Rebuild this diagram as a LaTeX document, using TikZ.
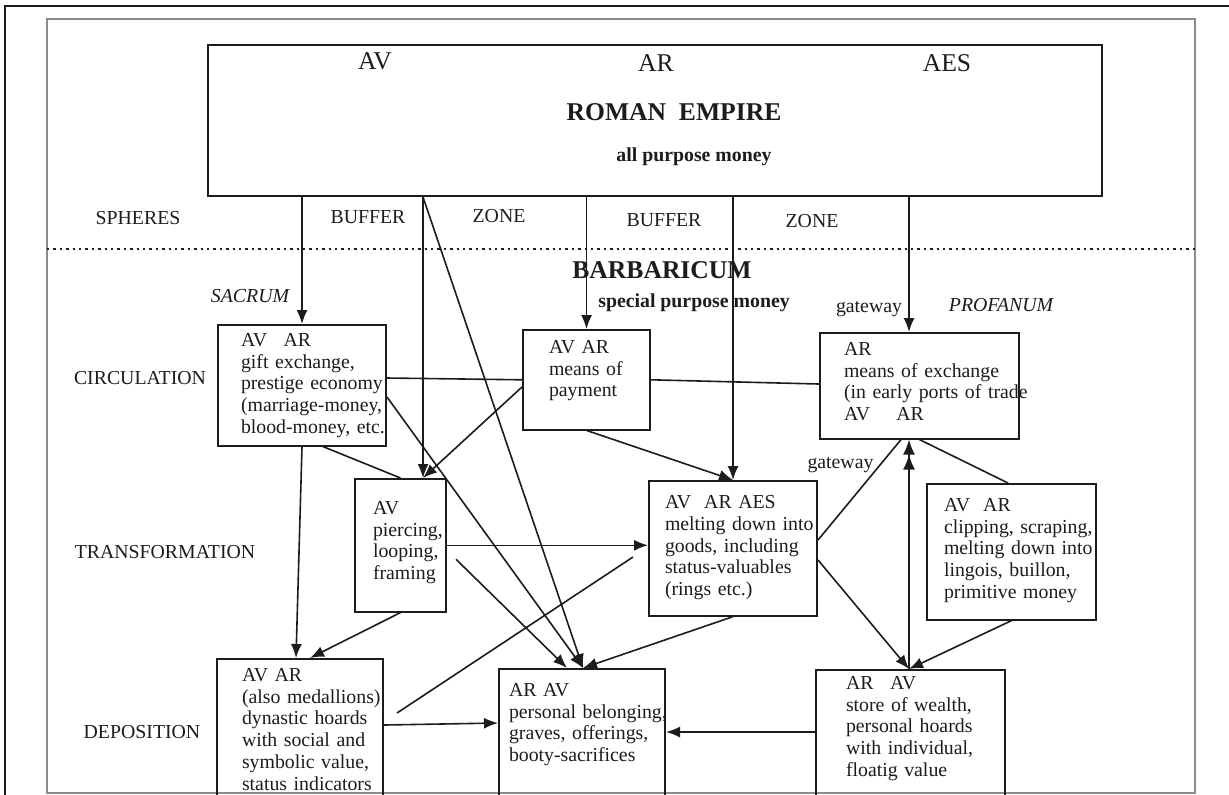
\documentclass[tikz,border=0pt]{standalone}
\usepackage{fontspec}
\setmainfont{Liberation Serif}
\usepackage{tikz}
\usetikzlibrary{arrows.meta,calc}
\usepackage{xcolor}
\definecolor{inkgray}{HTML}{1C1C1C}
\definecolor{framegray}{HTML}{8C8C8C}
\newcommand{\boxfont}{\fontsize{9.9pt}{10.85pt}\selectfont}
\newcommand{\headfont}{\fontsize{12.8pt}{14pt}\selectfont}

\begin{document}
\begin{tikzpicture}[
    x=0.5pt, y=-0.5pt,
    box/.style={draw=inkgray, line width=1pt, anchor=north west, align=left, inner xsep=0pt, font=\boxfont, text=inkgray},
    lpad/.style={execute at begin node={\leftskip=#1\relax\rightskip=-30pt plus 1fil\relax}},
    lbl/.style={font=\boxfont, text=inkgray, inner sep=0pt},
    head/.style={font=\headfont, text=inkgray, inner sep=0pt},
    con/.style={draw=inkgray, line width=0.8pt},
    arr/.style={con, -{Latex[length=7pt, width=5.5pt]}},
    darr/.style={con, -{Latex[length=7.5pt, width=6pt]Latex[length=7.5pt, width=6pt]}},
    sep/.style={draw=inkgray, line width=0.7pt, dash pattern=on 1.2pt off 2pt}
]
\useasboundingbox (0,0) rectangle (1229,794);
\clip (0,0) rectangle (1229,794);
\fill[white] (0,0) rectangle (1229,794);

\draw[inkgray, line width=0.8pt] (5,810) -- (5,6) -- (1240,6);
\draw[framegray, line width=1pt] (47,19) rectangle (1195,793);

\node[draw=inkgray, line width=1pt, anchor=north west, minimum width=447pt, minimum height=75.5pt, inner sep=0pt] (rome) at (207,44) {};
\node[head] (romeAV) at (375,61) {AV};
\node[head] (romeAR) at (656,63) {AR};
\node[head] (romeAES) at (947,63) {AES};
\node[head, font=\headfont\bfseries] (romeTitle) at (674,112) {ROMAN\ \ EMPIRE};
\node[lbl, font=\boxfont\bfseries] (romeSub) at (694,157) {all purpose money};

\node[lbl] (spheres) at (138,218) {SPHERES};
\node[lbl] (buffer1) at (368,217) {BUFFER};
\node[lbl] (zone1) at (499,216) {ZONE};
\node[lbl] (buffer2) at (664,220) {BUFFER};
\node[lbl] (zone2) at (812,221) {ZONE};
\draw[sep] (47,249) -- (1197,249);

\node[head, font=\headfont\bfseries] (barb) at (662,270) {BARBARICUM};
\node[lbl, font=\boxfont\bfseries] (barbSub) at (694,303) {special purpose money};
\node[lbl, font=\boxfont\itshape] (sacrum) at (250,296) {SACRUM};
\node[lbl, font=\boxfont\itshape] (profanum) at (1001,305) {PROFANUM};
\node[lbl] (gate1) at (869,309) {gateway};

\node[lbl] (circ) at (140,378) {CIRCULATION};
\node[lbl] (trans) at (165,552) {TRANSFORMATION};
\node[lbl] (depo) at (142,732) {DEPOSITION};

\node[box, text width=84pt, lpad=11.5pt, inner ysep=4.25pt, text depth=45.25pt] (gift) at (217,324)
    {AV\enspace\ AR\\gift exchange,\\prestige economy\\(marriage-money,\\blood-money, etc.};
\node[box, text width=63.5pt, lpad=13pt, inner ysep=5.25pt, text depth=32.75pt] (pay) at (522,329)
    {AV AR\\means of\\payment};
\node[box, text width=99.5pt, lpad=12pt, inner ysep=4.75pt, text depth=36.75pt] (exch) at (819,332)
    {AR\\means of exchange\\(in early ports of trade\\AV\quad\ AR};
\node[box, text width=45.5pt, lpad=9pt, inner ysep=11.25pt, text depth=37.25pt] (pierce) at (354,478)
    {AV\\piercing,\\looping,\\framing};
\node[box, text width=84pt, lpad=8pt, inner ysep=7.25pt, text depth=46.25pt] (melt) at (648,480)
    {AV\ \ AR AES\\melting down into\\goods, including\\status-valuables\\(rings etc.)};
\node[box, text width=84.5pt, lpad=8.5pt, inner ysep=7.25pt, text depth=46.75pt] (clip) at (926,483)
    {AV\ \ AR\\clipping, scraping,\\melting down into\\lingois, buillon,\\primitive money};
\node[box, text width=83pt, lpad=12.5pt, inner ysep=4.75pt, text depth=100pt] (dyn) at (216,658)
    {AV AR\\(also medallions)\\dynastic hoards\\with social and\\symbolic value,\\status indicators};
\node[box, text width=83pt, lpad=5pt, inner ysep=7.25pt, text depth=100pt] (pers) at (498,668)
    {AR AV\\personal belonging,\\graves, offerings,\\booty-sacrifices};
\node[box, text width=94.5pt, lpad=15pt, inner ysep=3.25pt, text depth=100pt] (store) at (815,669)
    {AR\enspace\ AV\\store of wealth,\\personal hoards\\with individual,\\floatig value};

\coordinate (pierceIn) at ($(pierce.north west)+(69,0)$);
\coordinate (persIn) at ($(pers.north west)+(85,0)$);
\coordinate (persIn2) at ($(pers.north west)+(69,0)$);
\coordinate (storeIn) at ($(store.north west)+(94,0)$);
\coordinate (exchIn) at ($(exch.north west)+(90,0)$);
\coordinate (dynIn) at ($(dyn.north west)+(80,0)$);
\coordinate (dynIn2) at ($(dyn.north west)+(94,0)$);

\draw[arr] (rome.south -| gift.north) -- (gift.north);
\draw[arr] (rome.south -| pierceIn) -- (pierceIn);
\draw[arr] (rome.south -| pierceIn) -- (persIn);
\draw[arr] (rome.south -| pay.north) -- (pay.north);
\draw[arr] (rome.south -| melt.north) -- (melt.north);
\draw[arr] (rome.south -| exchIn) -- (exchIn);

\draw[con] ($(gift.north east)+(0,54)$) -- (pay.west);
\draw[con] (pay.east) -- ($(exch.north west)+(0,52)$);
\draw[arr] ($(gift.north east)+(0,73)$) -- (persIn);
\draw[con] ($(gift.south west)+(106,0)$) -- (pierce.north);
\draw[arr] (gift.south) -- (dynIn);
\draw[arr] ($(pay.north west)+(0,58)$) -- (pierceIn);
\draw[arr] ($(pay.south west)+(65,0)$) -- (melt.north);

\draw[con] ($(melt.north east)+(0,60)$) -- node[lbl, pos=0.75, left=3pt] (gate2) {gateway} ($(exch.south west)+(82,0)$);
\draw[con] (exch.south) -- ($(clip.north west)+(82,0)$);
\draw[darr] (storeIn) -- (exch.south -| storeIn);
\draw[arr] ($(melt.north east)+(0,80)$) -- (storeIn);
\draw[arr] (clip.south) -- (storeIn);

\draw[arr] (pierce.east) -- (pierce.east -| melt.west);
\draw[arr] ($(pierce.east)+(9,14)$) -- (persIn2);
\draw[arr] (melt.south) -- (persIn);
\draw[arr] (pierce.south) -- (dynIn2);
\draw[con] ($(dyn.north east)+(13,55)$) -- ($(melt.north west)+(-15,77)$);
\draw[arr] ($(dyn.north east)+(0,67)$) -- ($(pers.north west)+(0,55)$);
\draw[arr] ($(store.north west)+(0,63)$) coordinate (storeOut) -- (storeOut -| pers.east);
\end{tikzpicture}
\end{document}
